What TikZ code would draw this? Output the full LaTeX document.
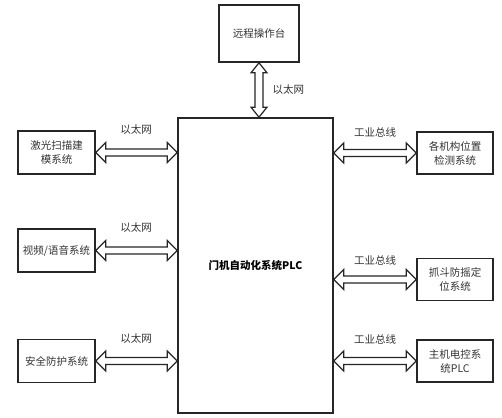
\documentclass[tikz,border=0pt]{standalone}
\usepackage{fontspec}
\newfontfamily\cjk{Noto Sans CJK SC}
\usetikzlibrary{calc}
\tikzset{
  box/.style={draw=black!85, line width=1.6pt, minimum width=77pt, minimum height=43pt, align=center, inner sep=2pt, font=\cjk\fontsize{10.5}{14}\selectfont, text=black!80},
  lbl/.style={font=\cjk\fontsize{10.5}{13}\selectfont, text=black!80},
  arrline/.style={draw=black!85, line width=1.2pt, fill=white, line join=miter}
}
\newcommand{\harr}[2]{%
  \path let \p1=(#1), \p2=(#2) in
    [arrline] (\x1,\y1) -- (\x1+10pt,\y1+10pt) -- (\x1+10pt,\y1+3.5pt) -- (\x2-10pt,\y1+3.5pt) -- (\x2-10pt,\y1+10pt)
    -- (\x2,\y1) -- (\x2-10pt,\y1-10pt) -- (\x2-10pt,\y1-3.5pt) -- (\x1+10pt,\y1-3.5pt) -- (\x1+10pt,\y1-10pt) -- cycle;}
\newcommand{\varr}[2]{%
  \path let \p1=(#1), \p2=(#2) in
    [arrline] (\x1,\y1) -- (\x1+8pt,\y1-10pt) -- (\x1+4pt,\y1-10pt) -- (\x1+4pt,\y2+10pt) -- (\x1+8pt,\y2+10pt)
    -- (\x1,\y2) -- (\x1-8pt,\y2+10pt) -- (\x1-4pt,\y2+10pt) -- (\x1-4pt,\y1-10pt) -- (\x1-8pt,\y1-10pt) -- cycle;}
\begin{document}
\begin{tikzpicture}[x=1pt,y=-1pt]
\useasboundingbox (0,0) rectangle (502,417);
\fill[white] (0,0) rectangle (502,417);
\node[box, minimum width=155pt, minimum height=295pt, font=\cjk\bfseries\fontsize{10.5}{14}\selectfont, text=black] (M) at (255.5,265.5) {门机自动化系统PLC};
\node[box, minimum width=80pt, minimum height=57pt] (T) at (259,33.5) {远程操作台};
\node[box] (L1) at (56.5,152.5) {激光扫描建\\模系统};
\node[box] (L2) at (56.5,250.5) {视频/语音系统};
\node[box] (L3) at (56.5,361) {安全防护系统};
\node[box, minimum width=76pt, minimum height=42pt] (R1) at (455,153) {各机构位置\\检测系统};
\node[box, minimum width=76pt, minimum height=42pt] (R2) at (455,279.5) {抓斗防摇定\\位系统};
\node[box, minimum width=76pt, minimum height=42pt] (R3) at (455,361) {主机电控系\\统PLC};
\coordinate (tv) at (T.south |- M.north);
\varr{T.south}{tv}
\coordinate (c1) at (L1.east -| M.west);
\coordinate (c2) at (L2.east -| M.west);
\coordinate (c3) at (L3.east -| M.west);
\coordinate (d1) at (R1.west -| M.east);
\coordinate (d2) at (R2.west -| M.east);
\coordinate (d3) at (R3.west -| M.east);
\harr{L1.east}{c1}
\harr{L2.east}{c2}
\harr{L3.east}{c3}
\harr{d1}{R1.west}
\harr{d2}{R2.west}
\harr{d3}{R3.west}
\node[lbl, anchor=west] (tl) at (269,90) {以太网};
\node[lbl] (l1) at (136,130) {以太网};
\node[lbl] (l2) at (136,228) {以太网};
\node[lbl] (l3) at (136,339) {以太网};
\node[lbl] (r1) at (375,132) {工业总线};
\node[lbl] (r2) at (375,260) {工业总线};
\node[lbl] (r3) at (375,339) {工业总线};
\end{tikzpicture}
\end{document}
